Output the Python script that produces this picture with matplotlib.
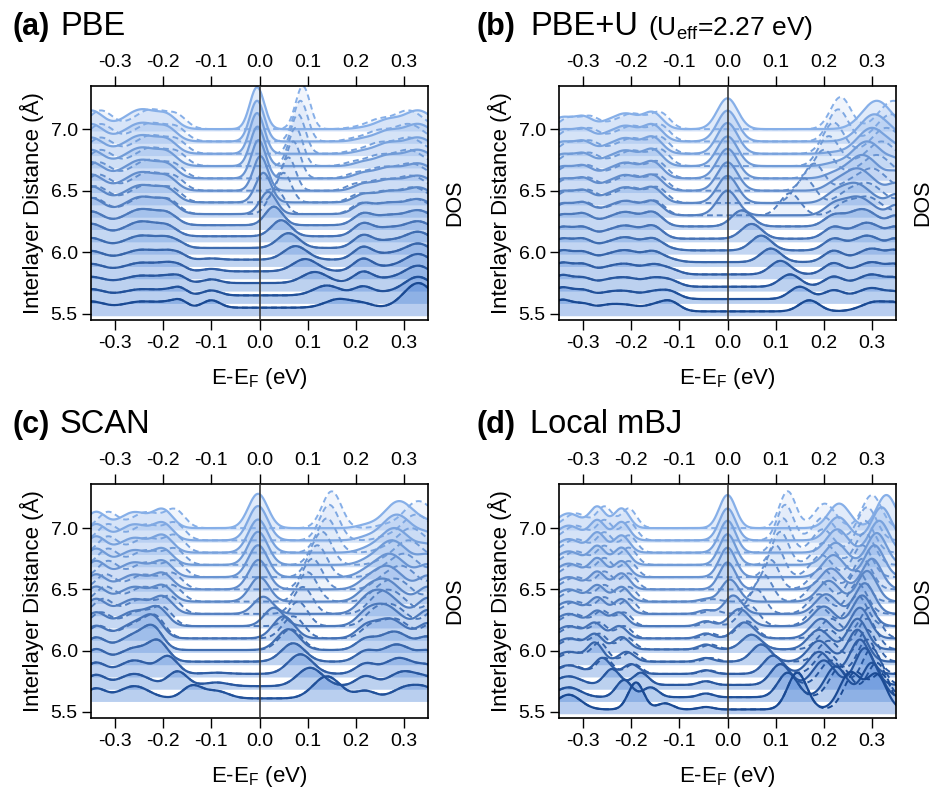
import numpy as np
import matplotlib.pyplot as plt
from matplotlib.colors import LinearSegmentedColormap

plt.rcParams['font.family'] = ['Liberation Sans', 'DejaVu Sans']
plt.rcParams['mathtext.fontset'] = 'custom'
plt.rcParams['mathtext.rm'] = 'Liberation Sans'
plt.rcParams['mathtext.it'] = 'Liberation Sans:italic'
plt.rcParams['axes.unicode_minus'] = False

# ---------------- data ----------------
# interlayer distances (Angstrom), bottom row first
DIST_16 = [5.5, 5.6, 5.7, 5.8, 5.9, 6.0, 6.1, 6.2, 6.3, 6.4, 6.5, 6.6, 6.7, 6.8, 6.9, 7.0]
DIST_15 = [5.6, 5.7, 5.8, 5.9, 6.0, 6.1, 6.2, 6.3, 6.4, 6.5, 6.6, 6.7, 6.8, 6.9, 7.0]

XTICKS = [-0.3, -0.2, -0.1, 0.0, 0.1, 0.2, 0.3]
YTICKS = [5.5, 6.0, 6.5, 7.0]

# peaks: (energy or energy per row, broadening, height per row)
# --- (a) PBE
A_FLOOR = [0.05, 0.05, 0.05, 0.045, 0.04, 0.035, 0.03, 0.02, 0.01, 0.005, 0, 0, 0, 0, 0, 0]
A_VB = [
    (-0.35, 0.025, [0.05, 0.05, 0.05, 0.06, 0.07, 0.08, 0.1, 0.11, 0.13, 0.13, 0.13, 0.13, 0.13, 0.13, 0.14, 0.15]),
    (-0.245, 0.035, [0.05, 0.05, 0.06, 0.07, 0.08, 0.1, 0.12, 0.13, 0.14, 0.14, 0.15, 0.15, 0.15, 0.15, 0.15, 0.16]),
    (-0.19, 0.02, [0.03, 0.03, 0.04, 0.05, 0.05, 0.06, 0.06, 0.07, 0.08, 0.08, 0.08, 0.08, 0.08, 0.08, 0.08, 0.08]),
    (-0.165, 0.015, [0.05, 0.05, 0.04, 0.03, 0.03, 0.02, 0, 0, 0, 0, 0, 0, 0, 0, 0, 0]),
    (-0.1, 0.018, [0.06, 0.04, 0.03, 0.02, 0.01, 0, 0, 0, 0, 0, 0, 0, 0, 0, 0, 0]),
]
A_CB = [
    (0.215, 0.02, [0.03, 0.07, 0.09, 0.1, 0.1, 0.1, 0.1, 0.09, 0.08, 0.06, 0.05, 0.04, 0.03, 0.02, 0.02, 0.01]),
    (0.265, 0.025, [0.0, 0.02, 0.03, 0.03, 0.04, 0.05, 0.06, 0.07, 0.08, 0.08, 0.08, 0.08, 0.08, 0.08, 0.08, 0.07]),
    (0.33, 0.03, [0.2, 0.15, 0.14, 0.14, 0.13, 0.13, 0.12, 0.12, 0.12, 0.12, 0.12, 0.12, 0.13, 0.13, 0.14, 0.15]),
]
A_VB_SHIFT = [0, 0, 0, 0, 0, 0, 0, 0, 0.005, 0.01, 0.015, 0.015, 0.02, 0.02, 0.02, 0.02]
A_CB_SHIFT = [0, 0, 0, 0, 0, 0, 0, 0, -0.005, -0.01, -0.015, -0.015, -0.02, -0.02, -0.02, -0.02]
A_FB_UP_E = [0.165, 0.14, 0.115, 0.095, 0.075, 0.06, 0.045, 0.03, 0.018, 0.008, 0.002, -0.002, -0.004, -0.005, -0.005, -0.005]
A_FB_UP_H = [0.07, 0.08, 0.09, 0.1, 0.11, 0.12, 0.13, 0.15, 0.18, 0.24, 0.28, 0.31, 0.32, 0.33, 0.33, 0.34]
A_FB_DN_E = [0.165, 0.14, 0.115, 0.095, 0.075, 0.06, 0.045, 0.03, 0.035, 0.05, 0.06, 0.07, 0.075, 0.08, 0.085, 0.09]
A_FB_DN_H = [0.07, 0.08, 0.09, 0.1, 0.11, 0.12, 0.13, 0.15, 0.2, 0.24, 0.27, 0.3, 0.31, 0.32, 0.33, 0.35]
A_FB_W = [0.028, 0.027, 0.026, 0.025, 0.024, 0.022, 0.02, 0.018, 0.017, 0.016, 0.015, 0.015, 0.015, 0.015, 0.015, 0.015]

# --- (b) PBE+U
B_FLOOR = [0.02, 0.02, 0.02, 0.02, 0.02, 0.015, 0.01, 0.01, 0, 0, 0, 0, 0, 0, 0, 0]
B_VB = [
    (-0.345, 0.02, [0.09, 0.09, 0.09, 0.09, 0.09, 0.09, 0.09, 0.09, 0.09, 0.09, 0.09, 0.09, 0.09, 0.09, 0.09, 0.09]),
    (-0.3, 0.02, [0.06, 0.07, 0.07, 0.08, 0.08, 0.09, 0.09, 0.1, 0.1, 0.1, 0.1, 0.1, 0.1, 0.1, 0.1, 0.1]),
    (-0.25, 0.02, [0.04, 0.04, 0.04, 0.04, 0.04, 0.04, 0.04, 0.04, 0.04, 0.04, 0.04, 0.04, 0.04, 0.04, 0.04, 0.04]),
    (-0.21, 0.025, [0.05, 0.06, 0.07, 0.08, 0.09, 0.1, 0.1, 0.11, 0.11, 0.12, 0.12, 0.12, 0.12, 0.12, 0.12, 0.12]),
    (-0.155, 0.02, [0.04, 0.05, 0.06, 0.07, 0.08, 0.09, 0.1, 0.11, 0.11, 0.12, 0.12, 0.13, 0.13, 0.13, 0.13, 0.13]),
    (-0.12, 0.02, [0.08, 0.06, 0.05, 0.04, 0.02, 0.01, 0, 0, 0, 0, 0, 0, 0, 0, 0, 0]),
]
B_CB = [
    (0.22, 0.02, [0.0, 0.07, 0.08, 0.09, 0.09, 0.09, 0.09, 0.08, 0.07, 0.05, 0.04, 0.03, 0.02, 0.01, 0.0, 0.0]),
    ([0.31, 0.3, 0.3, 0.3, 0.3, 0.29, 0.29, 0.28, 0.27, 0.265, 0.27, 0.28, 0.29, 0.3, 0.305, 0.31], 0.03,
     [0.08, 0.09, 0.1, 0.1, 0.11, 0.12, 0.13, 0.14, 0.15, 0.16, 0.18, 0.19, 0.2, 0.21, 0.22, 0.23]),
    (0.35, 0.015, [0.04, 0.04, 0.05, 0.06, 0.07, 0.08, 0.08, 0.08, 0.08, 0.07, 0.06, 0.05, 0.04, 0.03, 0.02, 0.0]),
]
B_VB_SHIFT = [0, 0, 0, 0, 0, 0, 0, 0, 0.005, 0.01, 0.01, 0.01, 0.015, 0.015, 0.015, 0.015]
B_CB_SHIFT = [0, 0, 0, 0, 0, 0, 0, 0, 0.02, 0.025, 0.03, 0.03, 0.03, 0.03, 0.035, 0.035]
B_FB_UP_E = [0.17, 0.15, 0.13, 0.11, 0.09, 0.07, 0.05, 0.03, 0.0, 0.0, 0.0, 0.0, 0.0, 0.0, 0.0, 0.0]
B_FB_UP_H = [0.09, 0.1, 0.1, 0.11, 0.11, 0.12, 0.12, 0.13, 0.2, 0.22, 0.23, 0.24, 0.24, 0.25, 0.25, 0.25]
B_FB_DN_E = [0.17, 0.15, 0.13, 0.11, 0.09, 0.07, 0.05, 0.03, 0.13, 0.16, 0.18, 0.2, 0.21, 0.22, 0.23, 0.235]
B_FB_DN_H = [0.09, 0.1, 0.1, 0.11, 0.11, 0.12, 0.12, 0.13, 0.18, 0.2, 0.22, 0.23, 0.24, 0.25, 0.26, 0.26]
B_FB_W = [0.021, 0.021, 0.021, 0.021, 0.021, 0.021, 0.021, 0.021, 0.021, 0.021, 0.021, 0.021, 0.021, 0.021, 0.021, 0.021]

# --- (c) SCAN
C_FLOOR = [0.01, 0.01, 0.01, 0.01, 0.005, 0, 0, 0, 0, 0, 0, 0, 0, 0, 0]
C_VB = [
    (-0.34, 0.02, [0.08, 0.09, 0.09, 0.1, 0.1, 0.1, 0.11, 0.12, 0.12, 0.12, 0.13, 0.13, 0.13, 0.13, 0.13]),
    (-0.26, 0.03, [0.1, 0.1, 0.11, 0.11, 0.12, 0.12, 0.12, 0.12, 0.12, 0.12, 0.12, 0.12, 0.12, 0.13, 0.13]),
    ([-0.14, -0.17, -0.19, -0.21, -0.22, -0.22, -0.21, -0.2, -0.2, -0.2, -0.2, -0.2, -0.2, -0.2, -0.2], 0.02,
     [0.1, 0.12, 0.14, 0.15, 0.15, 0.14, 0.13, 0.13, 0.12, 0.12, 0.12, 0.12, 0.13, 0.13, 0.14]),
    (-0.09, 0.025, [0.06, 0.03, 0.01, 0, 0, 0, 0, 0, 0, 0, 0, 0, 0, 0, 0]),
]
C_CB = [
    (0.22, 0.02, [0.06, 0.08, 0.08, 0.08, 0.08, 0.08, 0.07, 0.06, 0.05, 0.04, 0.03, 0.02, 0.02, 0.02, 0.02]),
    ([0.31, 0.3, 0.29, 0.285, 0.28, 0.27, 0.26, 0.255, 0.26, 0.265, 0.27, 0.275, 0.28, 0.285, 0.29], 0.03,
     [0.1, 0.12, 0.13, 0.14, 0.15, 0.16, 0.17, 0.18, 0.18, 0.19, 0.19, 0.2, 0.2, 0.21, 0.22]),
    (0.35, 0.02, [0.05, 0.05, 0.06, 0.08, 0.1, 0.12, 0.13, 0.13, 0.12, 0.11, 0.1, 0.08, 0.06, 0.05, 0.04]),
]
C_VB_SHIFT = [0, 0, 0, 0, 0, 0.005, 0.01, 0.015, 0.02, 0.02, 0.025, 0.025, 0.025, 0.025, 0.025]
C_CB_SHIFT = [0, 0, 0, 0, 0, 0.01, 0.015, 0.02, 0.025, 0.03, 0.03, 0.035, 0.035, 0.04, 0.04]
C_FB_UP_E = [0.14, 0.105, 0.085, 0.07, 0.06, 0.05, 0.03, 0.008, 0.0, -0.002, -0.003, -0.003, -0.003, -0.003, -0.003]
C_FB_UP_H = [0.18, 0.15, 0.16, 0.15, 0.17, 0.18, 0.15, 0.14, 0.2, 0.24, 0.26, 0.27, 0.27, 0.28, 0.28]
C_FB_DN_E = [0.14, 0.105, 0.085, 0.07, 0.065, 0.07, 0.08, 0.09, 0.1, 0.11, 0.12, 0.13, 0.14, 0.145, 0.15]
C_FB_DN_H = [0.18, 0.15, 0.16, 0.15, 0.17, 0.18, 0.2, 0.22, 0.24, 0.25, 0.26, 0.27, 0.28, 0.29, 0.3]
C_FB_W = [0.028, 0.026, 0.025, 0.024, 0.023, 0.022, 0.02, 0.02, 0.02, 0.02, 0.02, 0.02, 0.02, 0.02, 0.02]

# --- (d) Local mBJ
D_FLOOR = [0.02, 0.02, 0.02, 0.01, 0.01, 0.01, 0, 0, 0, 0, 0, 0, 0, 0, 0, 0]
D_VB = [
    (-0.33, 0.025, [0.12, 0.08, 0.07, 0.07, 0.08, 0.09, 0.1, 0.1, 0.1, 0.1, 0.1, 0.11, 0.11, 0.11, 0.12, 0.12]),
    ([-0.19, -0.215, -0.24, -0.26, -0.275, -0.275, -0.275, -0.27, -0.27, -0.27, -0.27, -0.27, -0.27, -0.27, -0.27, -0.27], 0.016,
     [0.22, 0.14, 0.13, 0.13, 0.15, 0.12, 0.12, 0.12, 0.13, 0.13, 0.14, 0.15, 0.15, 0.16, 0.16, 0.17]),
    ([-0.13, -0.16, -0.18, -0.2, -0.21, -0.22, -0.225, -0.225, -0.22, -0.22, -0.22, -0.22, -0.22, -0.22, -0.22, -0.22], 0.016,
     [0.05, 0.08, 0.1, 0.08, 0.08, 0.1, 0.1, 0.11, 0.12, 0.12, 0.13, 0.13, 0.14, 0.14, 0.15, 0.16]),
    (-0.045, 0.015, [0.02, 0.03, 0.03, 0.03, 0.03, 0.04, 0.04, 0.04, 0.03, 0.02, 0, 0, 0, 0, 0, 0]),
]
D_CB = [
    ([0.255, 0.225, 0.2, 0.19, 0.19, 0.19, 0.195, 0.2, 0.205, 0.21, 0.215, 0.22, 0.225, 0.228, 0.23, 0.232], 0.022,
     [0.3, 0.25, 0.2, 0.18, 0.17, 0.16, 0.16, 0.16, 0.16, 0.17, 0.17, 0.18, 0.18, 0.19, 0.19, 0.2]),
    ([0.31, 0.3, 0.285, 0.275, 0.27, 0.27, 0.275, 0.28, 0.285, 0.29, 0.3, 0.305, 0.31, 0.315, 0.32, 0.33], 0.02,
     [0.28, 0.28, 0.3, 0.28, 0.26, 0.25, 0.25, 0.25, 0.25, 0.25, 0.25, 0.26, 0.26, 0.26, 0.27, 0.27]),
]
D_VB_SHIFT = [0, 0, 0, 0.005, 0.01, 0.01, 0.01, 0.01, 0.015, 0.015, 0.015, 0.015, 0.015, 0.015, 0.015, 0.015]
D_CB_SHIFT = [0.01, 0.01, 0.015, 0.015, 0.02, 0.02, 0.02, -0.01, -0.015, -0.02, -0.02, -0.025, -0.025, -0.03, -0.03, -0.03]
D_FB_UP_E = [0.145, 0.125, 0.11, 0.095, 0.07, 0.05, 0.035, 0.025, 0.012, 0.005, 0.0, 0.0, 0.0, 0.0, 0.0, 0.0]
D_FB_UP_H = [0.3, 0.2, 0.17, 0.15, 0.14, 0.12, 0.13, 0.14, 0.15, 0.18, 0.22, 0.24, 0.25, 0.26, 0.26, 0.27]
D_FB_DN_E = [0.145, 0.125, 0.11, 0.095, 0.07, 0.05, 0.04, 0.045, 0.06, 0.075, 0.09, 0.1, 0.11, 0.115, 0.12, 0.125]
D_FB_DN_H = [0.3, 0.2, 0.17, 0.15, 0.14, 0.12, 0.14, 0.17, 0.2, 0.22, 0.24, 0.26, 0.27, 0.28, 0.29, 0.3]
D_FB_W = [0.02, 0.02, 0.02, 0.02, 0.02, 0.02, 0.02, 0.02, 0.018, 0.018, 0.017, 0.017, 0.017, 0.017, 0.017, 0.017]

LINE_CMAP = LinearSegmentedColormap.from_list('lines', ['#1a4a94', '#86afe8'])
FILL_CMAP = LinearSegmentedColormap.from_list('fills', ['#4f86d8', '#9dbff0'])

E = np.linspace(-0.35, 0.35, 701)


#builds one DOS curve from the peak lists
def dos_curve(i, floor, vb, cb, vb_shift, cb_shift, fb_e, fb_h, fb_w):
    y = np.full_like(E, floor[i], dtype=float)
    for tracks, shift in ((vb, vb_shift[i]), (cb, cb_shift[i])):
        for centre, width, heights in tracks:
            c = centre[i] if isinstance(centre, list) else centre
            y += heights[i] * np.exp(-0.5 * ((E - c - shift) / width) ** 2)
    y += fb_h[i] * np.exp(-0.5 * ((E - fb_e[i]) / fb_w[i]) ** 2)
    return y
#---------------------------------------------------------------------


def draw_panel(ax, dist, floor, vb, cb, vb_shift, cb_shift, up_e, up_h, dn_e, dn_h, fb_w, ylim):
    zero = [0] * len(dist)
    for i in reversed(range(len(dist))):
        d = dist[i]
        t = (d - 5.5) / 1.5
        lc = LINE_CMAP(t)
        fc = FILL_CMAP(t)
        up = dos_curve(i, floor, vb, cb, zero, zero, up_e, up_h, fb_w)
        dn = dos_curve(i, floor, vb, cb, vb_shift, cb_shift, dn_e, dn_h, fb_w)
        ax.fill_between(E, d - 0.015, d + dn, color=fc, alpha=0.14, lw=0)
        ax.fill_between(E, d - 0.015, d + up, color=fc, alpha=0.3, lw=0)
        ax.plot(E, d + dn, color=lc, lw=1.4, ls=(0, (3, 2)))
        ax.plot(E, d + up, color=lc, lw=1.6)

    ax.axvline(0, color='#3a3a3a', lw=1.2, zorder=10)
    ax.set_xlim(-0.35, 0.35)
    ax.set_ylim(*ylim)
    ax.set_xticks(XTICKS)
    ax.set_xticklabels([f'{v:.1f}' for v in XTICKS])
    ax.set_yticks(YTICKS)
    ax.set_yticklabels([f'{v:.1f}' for v in YTICKS])
    ax.tick_params(axis='x', direction='out', length=7.5, width=1, top=True, labeltop=True,
                   labelsize=14, pad=3)
    ax.tick_params(axis='y', direction='out', length=6.5, width=1, right=False, labelsize=14, pad=3)
    for s in ax.spines.values():
        s.set_linewidth(1.2)
    ax.text(-0.175, 0.5, 'Interlayer Distance (Å)', transform=ax.transAxes, rotation=90,
            ha='center', va='center', fontsize=16)
    ax.text(0.5, -0.25, 'E-E$_\\mathrm{F}$ (eV)', transform=ax.transAxes,
            ha='center', va='center', fontsize=16)
    ax.text(1.08, 0.5, 'DOS', transform=ax.transAxes, rotation=90,
            ha='center', va='center', fontsize=15.5)
#---------------------------------------------------------------------


def px(x, y):
    return x / 933, 1 - y / 790


fig = plt.figure(figsize=(9.33, 7.9), dpi=100)
W, H = 337 / 933, 234 / 790
ax_a = fig.add_axes([91 / 933, 1 - 320 / 790, W, H])
ax_b = fig.add_axes([559 / 933, 1 - 320 / 790, W, H])
ax_c = fig.add_axes([91 / 933, 1 - 718 / 790, W, H])
ax_d = fig.add_axes([559 / 933, 1 - 718 / 790, W, H])

draw_panel(ax_a, DIST_16, A_FLOOR, A_VB, A_CB, A_VB_SHIFT, A_CB_SHIFT,
           A_FB_UP_E, A_FB_UP_H, A_FB_DN_E, A_FB_DN_H, A_FB_W, (5.45, 7.35))
draw_panel(ax_b, DIST_16, B_FLOOR, B_VB, B_CB, B_VB_SHIFT, B_CB_SHIFT,
           B_FB_UP_E, B_FB_UP_H, B_FB_DN_E, B_FB_DN_H, B_FB_W, (5.45, 7.35))
draw_panel(ax_c, DIST_15, C_FLOOR, C_VB, C_CB, C_VB_SHIFT, C_CB_SHIFT,
           C_FB_UP_E, C_FB_UP_H, C_FB_DN_E, C_FB_DN_H, C_FB_W, (5.45, 7.36))
draw_panel(ax_d, DIST_16, D_FLOOR, D_VB, D_CB, D_VB_SHIFT, D_CB_SHIFT,
           D_FB_UP_E, D_FB_UP_H, D_FB_DN_E, D_FB_DN_H, D_FB_W, (5.45, 7.36))

# panel titles
fig.text(*px(12, 35), '(a)', fontsize=22, fontweight='bold', va='baseline')
fig.text(*px(60, 35), 'PBE', fontsize=23.5, va='baseline')
fig.text(*px(477, 35), '(b)', fontsize=22, fontweight='bold', va='baseline')
fig.text(*px(530, 35), 'PBE+U', fontsize=23.5, va='baseline')
fig.text(*px(648, 35), '(U$_\\mathrm{eff}$=2.27 eV)', fontsize=19, va='baseline')
fig.text(*px(12, 433), '(c)', fontsize=22, fontweight='bold', va='baseline')
fig.text(*px(60, 433), 'SCAN', fontsize=23.5, va='baseline')
fig.text(*px(477, 433), '(d)', fontsize=22, fontweight='bold', va='baseline')
fig.text(*px(530, 433), 'Local mBJ', fontsize=23.5, va='baseline')

fig.savefig('out.png', dpi=100)
